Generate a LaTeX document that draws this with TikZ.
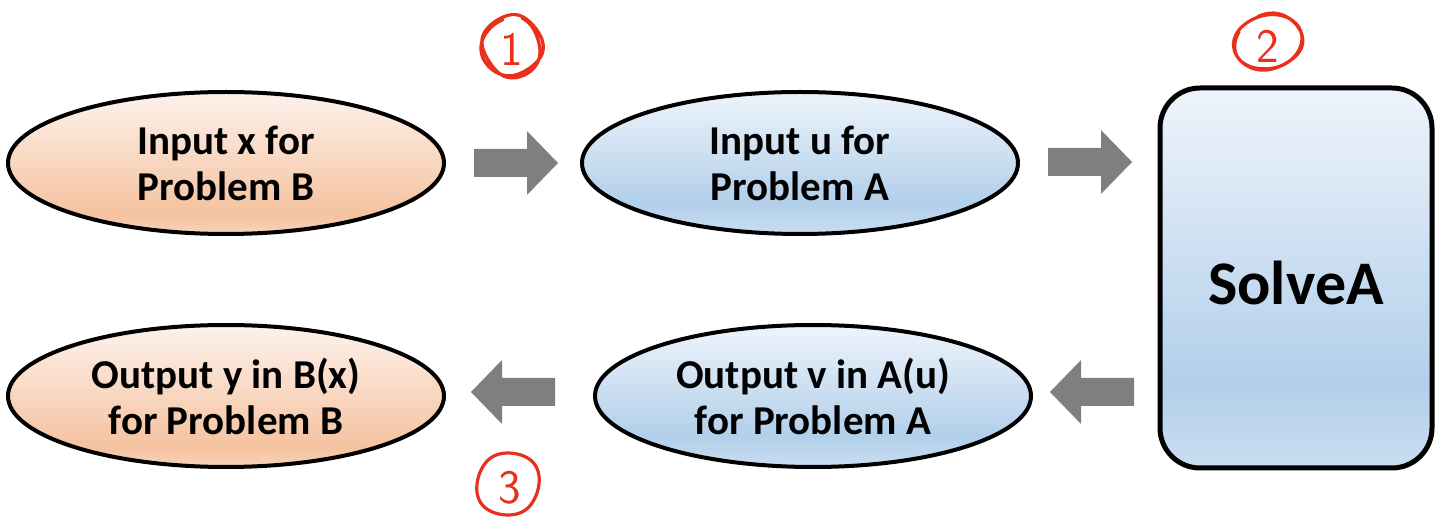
\documentclass[tikz,border=0pt]{standalone}
\usepackage{fontspec}
\setmainfont{Carlito}
\usetikzlibrary{shapes.geometric}

\definecolor{orangetop}{HTML}{FDF2EC}
\definecolor{orangemid}{HTML}{F5C29F}
\definecolor{orangebot}{HTML}{F8D3BA}
\definecolor{bluetop}{HTML}{EEF4FB}
\definecolor{bluemid}{HTML}{B2CFEA}
\definecolor{bluebot}{HTML}{CADDF1}
\definecolor{arrowgray}{HTML}{7F7F7F}
\definecolor{penred}{HTML}{E8301C}

% Three-stop vertical fills; TikZ maps a shape's extent onto 25bp..75bp
\pgfdeclareverticalshading{orangefill}{100bp}{color(0bp)=(orangebot); color(25bp)=(orangebot);
  color(32bp)=(orangemid); color(75bp)=(orangetop); color(100bp)=(orangetop)}
\pgfdeclareverticalshading{bluefill}{100bp}{color(0bp)=(bluebot); color(25bp)=(bluebot);
  color(36bp)=(bluemid); color(75bp)=(bluetop); color(100bp)=(bluetop)}

\tikzset{
  oval/.style={ellipse, draw=black, line width=2pt, minimum width=218pt, minimum height=71pt,
    inner sep=0pt, align=center, font=\fontsize{20.5}{23}\selectfont\bfseries},
  bproblem/.style={oval, shading=orangefill},
  aproblem/.style={oval, shading=bluefill},
  solver/.style={rectangle, rounded corners=20pt, draw=black, line width=2.5pt,
    shading=bluefill, minimum width=136pt, minimum height=190pt, inner sep=0pt,
    font=\fontsize{31}{34}\selectfont\bfseries},
  blockarrow/.pic={\fill[arrowgray] (-42,-14) -- (11,-14) -- (11,-32) -- (42,0) -- (11,32)
    -- (11,14) -- (-42,14) -- cycle;},
  handmark/.style={penred, line width=1.6pt, line cap=round, line join=round},
  handdigit/.style={text=penred, font=\fontsize{24}{24}\selectfont\sffamily, inner sep=0pt}
}

\begin{document}
\begin{tikzpicture}[x=0.5pt, y=-0.5pt]
  \useasboundingbox (0,0) rectangle (1442,518);

  % problem instances
  \node[bproblem] (xin)  at (226,163) {Input x for\\Problem B};
  \node[aproblem] (uin)  at (800,163) {Input u for\\Problem A};
  \node[bproblem] (yout) at (226,396) {Output y in B(x)\\for Problem B};
  \node[aproblem] (vout) at (813,396) {Output v in A(u)\\for Problem A};

  % the solver
  \node[solver] (solve) at (1296,278) {};
  \node[font=\fontsize{31}{34}\selectfont\bfseries] (solvelabel) at (1296,283) {SolveA};

  % flow between the stages
  \pic at (516,163) {blockarrow};
  \pic at (1090,162) {blockarrow};
  \pic[xscale=-1] at (513,392) {blockarrow};
  \pic[xscale=-1] at (1092,392) {blockarrow};

  % hand-circled step numbers
  \draw[handmark] plot[smooth, domain=110:790, samples=45]
    ({512+(29+2.5*sin(2.3*\x))*cos(\x)}, {46-(30+2*cos(1.7*\x))*sin(\x)});
  \node[handdigit] (s1) at (512,49) {1};
  \draw[handmark] plot[smooth, domain=160:830, samples=45]
    ({1268+(32+3*sin(2.1*\x))*cos(\x)}, {42-(29+2.5*cos(1.9*\x))*sin(\x)});
  \node[handdigit] (s2) at (1268,46) {2};
  \draw[handmark] plot[smooth, domain=100:470, samples=35]
    ({508+(31+2*sin(2*\x))*cos(\x)}, {484-(33+2*cos(2*\x))*sin(\x)});
  \node[handdigit] (s3) at (510,488) {3};
\end{tikzpicture}
\end{document}
